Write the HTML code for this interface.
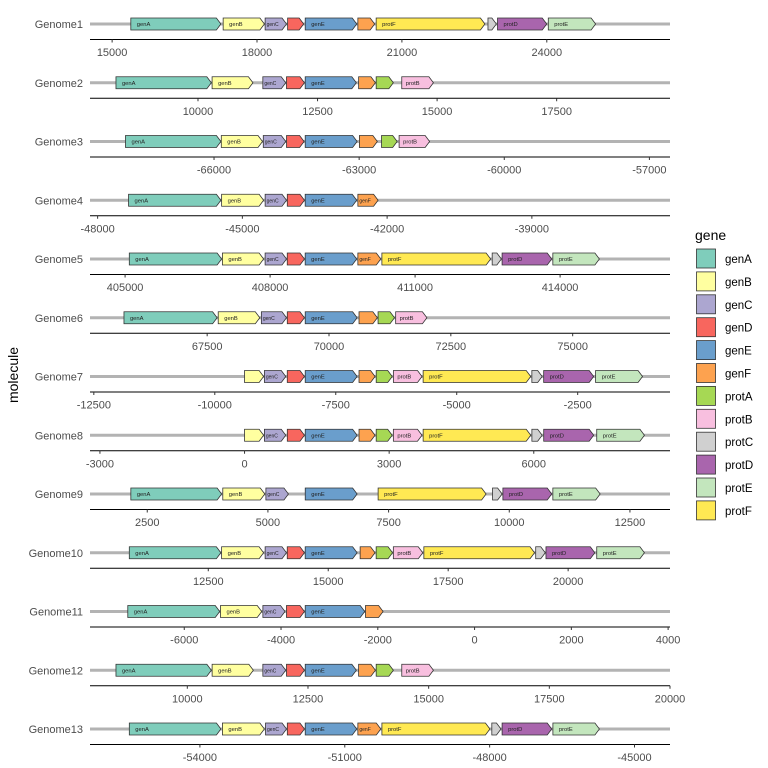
<!DOCTYPE html>
<html><head><meta charset="utf-8"><style>
body{margin:0;background:#fff;}
svg{display:block;font-family:"Liberation Sans",Arial,sans-serif;}
</style></head><body>
<svg id="chart" width="768" height="768" viewBox="0 0 768 768"></svg>
<script>
const molecules = ["Genome1","Genome2","Genome3","Genome4","Genome5","Genome6","Genome7","Genome8","Genome9","Genome10","Genome11","Genome12","Genome13"];
const geneNames = ["genA","genB","genC","genD","genE","genF","protA","protB","protC","protD","protE","protF"];
const geneColors = ["#7fcdbb","#ffffa0","#aca6d0","#f8665e","#6a9ecc","#fda24f","#a6d854","#f8bfdf","#d0d0d0","#a965ad","#c3e6bd","#ffe953"];
const domainMin = [14542,7742,-68564,-48158,404274,65096,-12579,-3206,1314,10035,-7948,7984,-56276];
const domainMax = [26551,19870,-56574,-36137,416274,76997,-592,8826,13330,22123,4039,20000,-44265];
const tickValues = [
 [15000,18000,21000,24000],
 [10000,12500,15000,17500],
 [-66000,-63000,-60000,-57000],
 [-48000,-45000,-42000,-39000],
 [405000,408000,411000,414000],
 [67500,70000,72500,75000],
 [-12500,-10000,-7500,-5000,-2500],
 [-3000,0,3000,6000],
 [2500,5000,7500,10000,12500],
 [12500,15000,17500,20000],
 [-6000,-4000,-2000,0,2000,4000],
 [10000,12500,15000,17500,20000],
 [-54000,-51000,-48000,-45000]
];
// genes per molecule: [gene, start, end]
const genes = [
 [["genA",15387,17252],["genB",17299,18153],["genC",18168,18611],["genD",18634,18966],["genE",18998,20065],["genF",20088,20436],["protF",20467,22719],["protC",22782,22956],["protD",22980,23999],["protE",24031,25011]],
 [["genA",8285,10279],["genB",10295,11149],["genC",11356,11835],["genD",11851,12226],["genE",12242,13311],["genF",13359,13710],["protA",13726,14085],["protB",14261,14923]],
 [["genA",-67830,-65858],["genB",-65850,-64998],["genC",-64982,-64517],["genD",-64501,-64138],["genE",-64115,-63042],["genF",-62995,-62624],["protA",-62537,-62214],["protB",-62174,-61543]],
 [["genA",-47359,-45445],["genB",-45430,-44560],["genC",-44528,-44085],["genD",-44069,-43713],["genE",-43698,-42630],["genF",-42606,-42187]],
 [["genA",405087,406997],["genB",407013,407866],["genC",407897,408340],["genD",408355,408711],["genE",408726,409792],["genF",409816,410290],["protF",410313,412563],["protC",412595,412785],["protD",412800,413827],["protE",413850,414813]],
 [["genA",65793,67704],["genB",67727,68580],["genC",68612,69128],["genD",69144,69496],["genE",69512,70577],["genF",70616,70992],["protA",71007,71344],["protB",71368,72009]],
 [["genB",-9385,-8991],["genC",-8975,-8533],["genD",-8502,-8147],["genE",-8131,-7059],["genF",-7019,-6688],["protA",-6664,-6333],["protB",-6309,-5718],["protF",-5694,-3471],["protC",-3447,-3234],["protD",-3203,-2170],["protE",-2130,-1160]],
 [["genB",0,396],["genC",412,855],["genD",887,1243],["genE",1259,2335],["genF",2375,2707],["protA",2731,3063],["protB",3087,3681],["protF",3705,5937],["protC",5961,6174],["protD",6206,7243],["protE",7306,8296]],
 [["genA",2160,4041],["genB",4065,4935],["genC",4958,5425],["genE",5773,6848],["protF",7283,9520],["protC",9654,9852],["protD",9868,10880],["protE",10903,11883]],
 [["genA",10854,12762],["genB",12778,13653],["genC",13685,14130],["genD",14146,14504],["genE",14520,15602],["genF",15665,15975],["protA",15999,16341],["protB",16357,16970],["protF",16993,19300],["protC",19324,19523],["protD",19538,20556],["protE",20596,21590]],
 [["genA",-7167,-5267],["genB",-5251,-4399],["genC",-4375,-3918],["genD",-3887,-3516],["genE",-3500,-2270],["genF",-2254,-1891]],
 [["genA",8522,10498],["genB",10514,11368],["genC",11565,12039],["genD",12055,12427],["genE",12443,13502],["genF",13549,13897],["protA",13913,14269],["protB",14443,15099]],
 [["genA",-55462,-53565],["genB",-53534,-52665],["genC",-52641,-52206],["genD",-52190,-51835],["genE",-51819,-50752],["genF",-50729,-50254],["protF",-50231,-47994],["protC",-47955,-47765],["protD",-47742,-46714],["protE",-46690,-45727]]
];

const NS="http://www.w3.org/2000/svg";
const svg=document.getElementById('chart');
function mk(tag,attrs,parent){const e=document.createElementNS(NS,tag);for(const k in attrs)e.setAttribute(k,attrs[k]);(parent||svg).appendChild(e);return e;}
const PX0=90, PX1=670, ROW0=24, ROWSTEP=58.75, GH=12, HEAD=4.5;
function xScale(i,v){return PX0+(v-domainMin[i])/(domainMax[i]-domainMin[i])*(PX1-PX0);}
function yRow(i){return ROW0+i*ROWSTEP;}

const yt=mk('text',{x:18,y:375,'font-size':14,fill:'#000','text-anchor':'middle',transform:'rotate(-90 18 375)'});


yt.textContent='molecule';

molecules.forEach((m,i)=>{
  const cy=yRow(i);
  const g=mk('g',{});
  
  
  const lab=mk('text',{x:83,y:cy+4,'font-size':11,fill:'#4d4d4d','text-anchor':'end'},g);
  
  
  lab.textContent=m;
  const ln=mk('line',{x1:PX0,x2:PX1,y1:cy,y2:cy,stroke:'#b3b3b3','stroke-width':3},g);
  
  
  const ay=cy+15.5;
  const ax=mk('line',{x1:PX0,x2:PX1,y1:ay,y2:ay,stroke:'#000','stroke-width':1.1},g);
  
  
  tickValues[i].forEach(t=>{
    const tx=xScale(i,t);
    const tk=mk('line',{x1:tx,x2:tx,y1:ay,y2:ay+3,stroke:'#333','stroke-width':1},g);
    
    
    const tl=mk('text',{x:tx,y:ay+16.5,'font-size':11,fill:'#4d4d4d','text-anchor':'middle'},g);
    
    
    tl.textContent=String(t);
  });
  genes[i].forEach(gd=>{
    const x0=xScale(i,gd[1]), x1=xScale(i,gd[2]);
    const w=x1-x0, h=Math.min(HEAD,w);
    const col=geneColors[geneNames.indexOf(gd[0])];
    const pts=[[x0,cy-GH/2],[x1-h,cy-GH/2],[x1,cy],[x1-h,cy+GH/2],[x0,cy+GH/2]].map(p=>p.join(',')).join(' ');
    const p=mk('polygon',{points:pts,fill:col,stroke:'#333','stroke-width':0.8},g);
    
    
    if(w>=20){
      const fs = w<26 ? 5 : 5.8;
      const off = w<26 ? 1.5 : (w<40 ? 4 : 6);
      const t=mk('text',{x:x0+off,y:cy+2,'font-size':fs,fill:'#222'},g);
      
      
      t.textContent=gd[0];
    }
  });
});

const lg=mk('g',{});


const lt=mk('text',{x:695,y:240,'font-size':14,fill:'#000'},lg);


lt.textContent='gene';
geneNames.forEach((n,k)=>{
  const y=249+k*22.9;
  const e=mk('g',{},lg);
  
  
  mk('rect',{x:696.5,y:y,width:19,height:19,fill:geneColors[k],stroke:'#333','stroke-width':0.8},e);
  const t=mk('text',{x:725,y:y+14,'font-size':11.5,fill:'#000'},e);
  t.textContent=n;
});
</script>
</body></html>
